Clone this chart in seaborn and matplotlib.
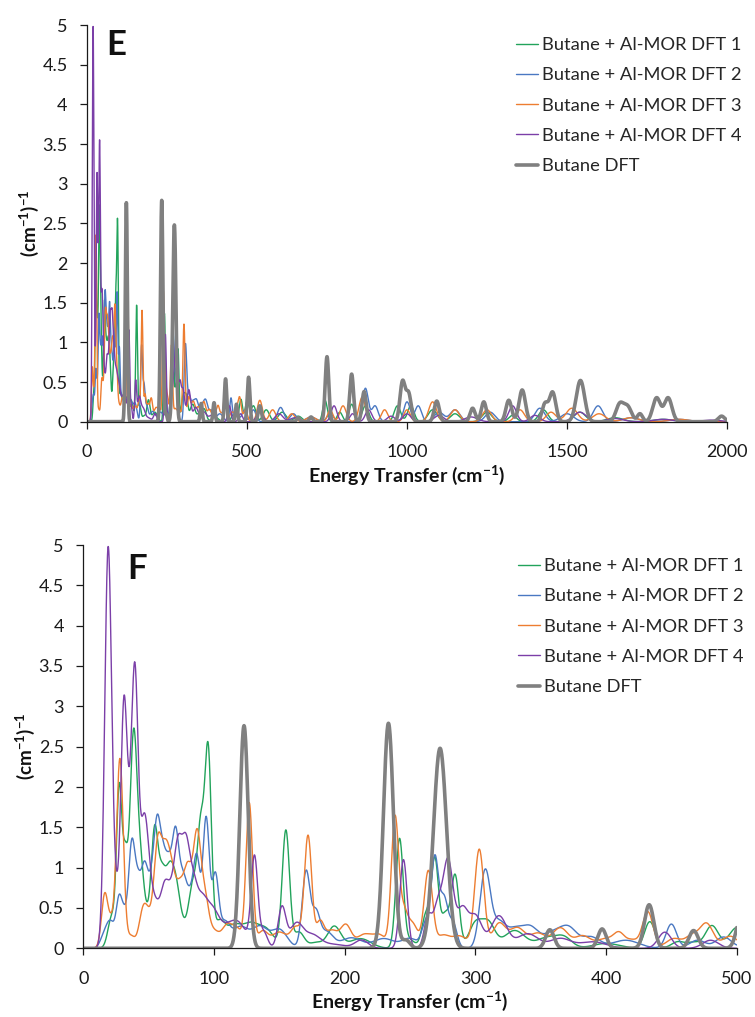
import numpy as np
import pandas as pd
import seaborn as sns
import matplotlib.pyplot as plt

# ---------------- data: peaks (centre cm-1, height, width sigma cm-1)
series_names = ["Butane + Al-MOR DFT 1", "Butane + Al-MOR DFT 2",
                "Butane + Al-MOR DFT 3", "Butane + Al-MOR DFT 4", "Butane DFT"]

dft1_peaks = [
    (22, 0.4, 3), (27.5, 1.9, 2), (32, 1.0, 2), (38.5, 2.65, 2.8), (44, 0.8, 2.5),
    (49, 0.35, 3), (54.5, 1.3, 2.5), (60, 0.85, 3), (66, 0.8, 3), (71, 0.65, 3),
    (76, 0.2, 3), (84, 0.8, 3.5), (90, 1.3, 2.5), (95.5, 2.4, 2.5), (104, 0.3, 4),
    (115, 0.27, 6), (128, 0.27, 6), (140, 0.22, 6), (155, 1.45, 2.8), (165, 0.2, 4),
    (178, 0.07, 5), (192, 0.27, 5), (212, 0.12, 8), (242, 1.35, 2.8), (250, 0.1, 4),
    (262, 0.4, 3), (269, 1.1, 2.8), (277, 0.4, 3), (284.5, 0.9, 3), (300, 0.3, 5),
    (310, 0.3, 5), (330, 0.22, 8), (355, 0.13, 8), (368, 0.12, 6), (400, 0.06, 10),
    (433.5, 0.33, 4), (455, 0.08, 5), (467, 0.07, 5), (481, 0.28, 5), (500, 0.25, 6),
    (520, 0.2, 8), (560, 0.15, 10), (610, 0.12, 12), (660, 0.07, 12), (744, 0.27, 7),
    (790, 0.12, 8), (827, 0.22, 8), (870, 0.2, 10), (970, 0.2, 10), (1012, 0.2, 10),
    (1080, 0.15, 14), (1150, 0.1, 15), (1250, 0.12, 15), (1330, 0.08, 12),
    (1426, 0.15, 14), (1540, 0.12, 18), (1650, 0.05, 25), (1800, 0.03, 30),
]
dft2_peaks = [
    (16, 0.15, 3), (21, 0.3, 3), (27.5, 0.6, 2.3), (31.5, 0.3, 2), (37, 1.25, 2.5),
    (42, 0.7, 2.5), (47, 0.9, 2.5), (52, 0.65, 2.5), (56.5, 1.35, 2.5), (61, 0.9, 2.5),
    (65.5, 0.85, 2.5), (70.5, 1.25, 2.5), (76, 0.8, 3), (82, 0.55, 3), (87, 1.0, 2.5),
    (94, 1.6, 2.5), (101, 0.85, 2.5), (108, 0.3, 4), (120, 0.26, 6), (135, 0.26, 6),
    (150, 0.23, 6), (170.5, 0.95, 3), (178, 0.4, 3), (186, 0.2, 5), (205, 0.13, 8),
    (230, 0.12, 8), (250, 0.12, 6), (262, 0.3, 3), (269, 1.1, 2.8), (276, 0.6, 3),
    (283, 0.3, 3), (307.5, 0.95, 4), (318, 0.3, 5), (330, 0.22, 6), (342, 0.24, 6),
    (360, 0.2, 8), (372, 0.2, 6), (388, 0.14, 7), (415, 0.1, 10), (450, 0.3, 4),
    (470, 0.1, 6), (490, 0.14, 6), (520, 0.15, 8), (605, 0.18, 10), (645, 0.1, 10),
    (700, 0.06, 15), (760, 0.1, 10), (870, 0.42, 9), (900, 0.2, 10), (1000, 0.25, 10),
    (1035, 0.2, 10), (1100, 0.12, 15), (1150, 0.15, 15), (1260, 0.12, 15),
    (1415, 0.17, 15), (1500, 0.1, 20), (1597, 0.2, 15), (1700, 0.05, 25), (1850, 0.03, 30),
]
dft3_peaks = [
    (16.5, 0.68, 2.5), (21.5, 0.25, 2), (28, 2.35, 2.6), (36.5, 0.15, 3), (45.5, 0.42, 3),
    (50, 0.3, 3), (57, 1.25, 3), (63, 1.0, 3), (68, 0.75, 3), (74, 0.65, 3), (80, 0.9, 3),
    (87, 1.35, 3), (93, 0.55, 3), (100, 0.2, 4), (110, 0.27, 4), (118, 0.22, 4),
    (127, 1.78, 2.5), (137, 0.2, 4), (150, 0.2, 6), (163, 0.25, 4), (172, 1.38, 2.8),
    (181, 0.3, 3), (190, 0.22, 5), (201, 0.27, 4), (215, 0.17, 6), (227, 0.15, 5),
    (238.5, 1.6, 2.8), (245, 0.4, 3), (252, 0.3, 4), (264, 0.95, 3.2), (275, 0.15, 5),
    (288, 0.15, 6), (303, 1.22, 3.5), (318, 0.3, 5), (332, 0.25, 6), (348, 0.18, 6),
    (365, 0.25, 6), (382, 0.15, 6), (400, 0.12, 7), (410, 0.15, 4), (420, 0.1, 5),
    (432, 0.45, 4), (452, 0.12, 6), (466, 0.15, 5), (477, 0.3, 5), (495, 0.15, 6),
    (540, 0.27, 8), (580, 0.15, 10), (640, 0.1, 10), (700, 0.06, 15), (760, 0.15, 8),
    (800, 0.2, 10), (860, 0.31, 10), (930, 0.15, 10), (1000, 0.15, 10), (1080, 0.25, 12),
    (1150, 0.15, 14), (1250, 0.15, 14), (1353, 0.15, 14), (1450, 0.12, 15),
    (1515, 0.17, 18), (1600, 0.1, 20), (1700, 0.05, 25), (1850, 0.03, 30),
]
dft4_peaks = [
    (19, 4.9, 2.6), (25, 0.6, 3), (31, 2.75, 2.3), (35, 1.0, 2.5), (39.5, 3.25, 2.5),
    (46.5, 1.45, 3), (51, 0.5, 3), (56, 0.4, 3), (62, 0.65, 3), (67, 0.5, 3),
    (72.5, 1.15, 3), (78.5, 1.15, 3), (84, 0.6, 3), (90, 0.5, 4), (98, 0.4, 5),
    (110, 0.25, 8), (120, 0.2, 6), (131, 1.1, 2.5), (138, 0.2, 3), (152, 0.5, 3),
    (163, 0.3, 5), (175, 0.15, 6), (190, 0.05, 10), (213, 0.1, 5), (245, 1.1, 2.8),
    (264, 0.4, 3), (271, 0.45, 3), (279, 1.1, 4), (290, 0.45, 4), (300, 0.4, 5),
    (318, 0.4, 6), (340, 0.18, 8), (365, 0.12, 8), (390, 0.08, 10), (445, 0.2, 5),
    (480, 0.1, 6), (540, 0.12, 10), (600, 0.1, 12), (650, 0.05, 15), (772, 0.2, 9),
    (830, 0.1, 9), (880, 0.15, 10), (950, 0.07, 12), (1000, 0.1, 12), (1100, 0.08, 15),
    (1200, 0.06, 20), (1330, 0.2, 12), (1400, 0.08, 15), (1540, 0.12, 20),
    (1650, 0.04, 25), (1800, 0.03, 30), (1950, 0.02, 30),
]
butane_peaks = [
    (123, 2.76, 3.2), (233.5, 2.79, 3.8), (247, 0.1, 3), (273, 2.48, 5.0),
    (357, 0.23, 3.2), (397, 0.24, 3.2), (433, 0.54, 3.6), (467, 0.22, 3.5),
    (505, 0.56, 4), (540, 0.2, 5), (660, 0.05, 5), (700, 0.06, 5), (750, 0.82, 5.5),
    (827, 0.6, 6), (866, 0.38, 6.5), (986, 0.5, 8), (1005, 0.35, 8), (1093, 0.26, 8),
    (1205, 0.17, 8), (1240, 0.25, 8), (1318, 0.27, 9), (1360, 0.4, 10),
    (1431, 0.22, 9), (1455, 0.37, 10), (1542, 0.52, 13), (1665, 0.22, 12),
    (1690, 0.18, 12), (1728, 0.1, 8), (1780, 0.3, 12), (1816, 0.3, 12), (1983, 0.07, 10),
]
all_peaks = [dft1_peaks, dft2_peaks, dft3_peaks, dft4_peaks, butane_peaks]

colors = ["#22A35B", "#4A78C2", "#ED7D31", "#7B3FA8", "#808080"]
widths = [1.0, 1.0, 1.0, 1.0, 2.6]

y_ticks = [0, 0.5, 1, 1.5, 2, 2.5, 3, 3.5, 4, 4.5, 5]
y_tick_labels = ["0", "0.5", "1", "1.5", "2", "2.5", "3", "3.5", "4", "4.5", "5"]
e_xticks = [0, 500, 1000, 1500, 2000]
f_xticks = [0, 100, 200, 300, 400, 500]

# ---------------- broadened spectra built from the peak lists
energy = np.arange(0, 2000.01, 0.25)
frames = []
for name, peaks in zip(series_names, all_peaks):
    inten = np.zeros_like(energy)
    for c, h, s in peaks:
        inten += h * np.exp(-0.5 * ((energy - c) / s) ** 2)
    frames.append(pd.DataFrame({"energy": energy, "intensity": inten, "series": name}))
df = pd.concat(frames, ignore_index=True)

sns.set_theme(style="ticks")
plt.rcParams["font.family"] = ["Lato", "DejaVu Sans"]
plt.rcParams["mathtext.fontset"] = "custom"
plt.rcParams["mathtext.rm"] = "Lato"
plt.rcParams["mathtext.bf"] = "Lato:bold"

fig = plt.figure(figsize=(7.55, 10.17), dpi=100)
axE = fig.add_axes([87 / 755, 1 - 421.7 / 1017, 640 / 755, 396.7 / 1017])
axF = fig.add_axes([83.3 / 755, 1 - 948.3 / 1017, 653.4 / 755, 403.3 / 1017])

for ax, xmax, xt in [(axE, 2000, e_xticks), (axF, 500, f_xticks)]:
    for name, col, lw in zip(series_names, colors, widths):
        sub = df[(df["series"] == name) & (df["energy"] <= xmax)]
        sns.lineplot(data=sub, x="energy", y="intensity", color=col, linewidth=lw,
                     label=name, ax=ax, estimator=None, sort=False, legend=False)
    ax.set_xlim(0, xmax)
    ax.set_ylim(0, 5)
    ax.set_xticks(xt)
    ax.set_xticklabels([str(v) for v in xt])
    ax.set_yticks(y_ticks)
    ax.set_yticklabels(y_tick_labels)
    for sp in ["top", "right"]:
        ax.spines[sp].set_visible(False)
    for sp in ["left", "bottom"]:
        ax.spines[sp].set_color("#1a1a1a")
        ax.spines[sp].set_linewidth(0.9)
    ax.tick_params(axis="both", direction="out", length=5, width=0.9, color="#1a1a1a",
                   labelsize=13, labelcolor="#1a1a1a")
    ax.tick_params(axis="x", pad=11)
    ax.tick_params(axis="y", pad=9)
    ax.set_xlabel("Energy Transfer (cm$^{\\mathbf{-1}}$)", fontsize=14,
                  fontweight="bold", labelpad=2, color="#111111")
    ax.set_ylabel("(cm$^{\\mathbf{-1}}$)$^{\\mathbf{-1}}$", fontsize=13.5,
                  fontweight="bold", labelpad=1, color="#111111")

handles = axE.get_lines()[:5]
axE.legend(handles=handles, labels=series_names, loc="upper left",
           bbox_to_anchor=(516 / 755, 1 - 37 / 1017), bbox_transform=fig.transFigure,
           frameon=False, fontsize=13.2, handlelength=1.2, handletextpad=0.2,
           labelspacing=0.78, borderpad=0, borderaxespad=0)
handlesF = axF.get_lines()[:5]
axF.legend(handles=handlesF, labels=series_names, loc="upper left",
           bbox_to_anchor=(518 / 755, 1 - 558 / 1017), bbox_transform=fig.transFigure,
           frameon=False, fontsize=13.2, handlelength=1.2, handletextpad=0.2,
           labelspacing=0.78, borderpad=0, borderaxespad=0)

fig.text(106 / 755, 1 - 55 / 1017, "E", fontsize=25, fontweight="bold", va="baseline",
         color="#111111")
fig.text(127 / 755, 1 - 579 / 1017, "F", fontsize=25, fontweight="bold", va="baseline",
         color="#111111")

fig.savefig("out.png", dpi=100)
